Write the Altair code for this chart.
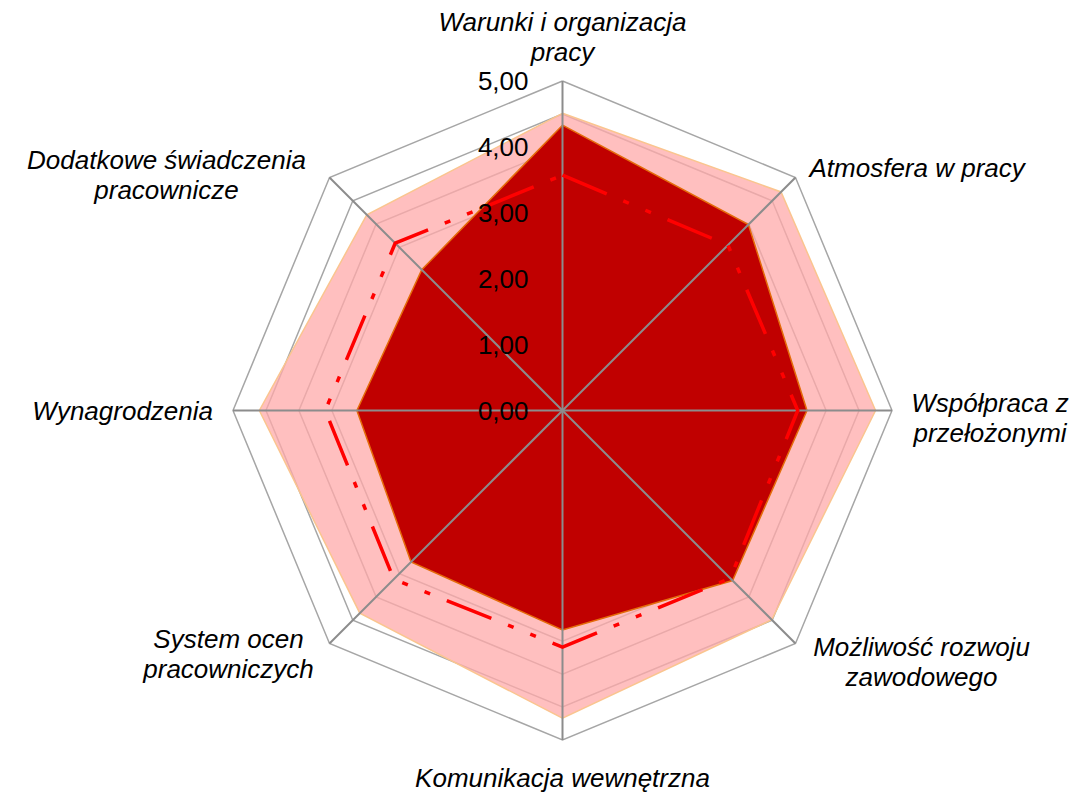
import altair as alt
import pandas as pd

categories = [
    "Warunki i organizacja\npracy",
    "Atmosfera w pracy",
    "Współpraca z\nprzełożonymi",
    "Możliwość rozwoju\nzawodowego",
    "Komunikacja wewnętrzna",
    "System ocen\npracowniczych",
    "Wynagrodzenia",
    "Dodatkowe świadczenia\npracownicze",
]
pink_values = [4.51, 4.69, 4.75, 4.49, 4.67, 4.35, 4.60, 4.20]
dark_values = [4.33, 3.99, 3.71, 3.65, 3.33, 3.25, 3.12, 3.02]
dashed_values = [3.57, 3.55, 3.57, 3.60, 3.59, 3.62, 3.60, 3.59]
grid_levels = [0.5, 1.0, 1.5, 2.0, 2.5, 3.0, 3.5, 4.0, 4.5, 5.0]
tick_values = [0, 1, 2, 3, 4, 5]
tick_labels = ["0,00", "1,00", "2,00", "3,00", "4,00", "5,00"]

W, H = 1076, 787
CX, CY = 554.5, 402.5
UNIT = 65.9
N = len(categories)
RMAX = grid_levels[-1]

xs = alt.Scale(domain=[-CX / UNIT, (W - CX) / UNIT], nice=False, zero=False)
ys = alt.Scale(domain=[-(H - CY) / UNIT, CY / UNIT], nice=False, zero=False)


def ring(values, name):
    rows = []
    for i in range(N + 1):
        rows.append({"series": name, "idx": i, "value": values[i % N]})
    return rows


series_df = pd.DataFrame(
    ring(pink_values, "pink") + ring(dark_values, "dark") + ring(dashed_values, "dash")
)
grid_rows = []
for lvl in grid_levels:
    grid_rows += [{"level": lvl, "idx": i, "value": lvl} for i in range(N + 1)]
grid_df = pd.DataFrame(grid_rows)
spoke_df = pd.DataFrame({"idx": list(range(N)), "value": [RMAX] * N})
label_df = pd.DataFrame({"idx": list(range(N)), "value": [RMAX] * N, "label": categories})
tick_df = pd.DataFrame({"tv": tick_values, "label": tick_labels})

ANG = "datum.idx * 2 * PI / %d" % N


def polar(ch):
    return ch.transform_calculate(
        x="datum.value * sin(" + ANG + ")",
        y="datum.value * cos(" + ANG + ")",
    )


X = alt.X("x:Q", scale=xs, axis=None)
Y = alt.Y("y:Q", scale=ys, axis=None)

grid = polar(alt.Chart(grid_df)).mark_line(
    stroke="#A6A6A6", strokeWidth=1.5
).encode(x=X, y=Y, detail="level:N", order="idx:Q")

pink = polar(alt.Chart(series_df).transform_filter("datum.series == 'pink'")).mark_line(
    fill="#FFAAAA", fillOpacity=0.75, stroke="#FAC58F", strokeWidth=1.5
).encode(x=X, y=Y, order="idx:Q")

dark = polar(alt.Chart(series_df).transform_filter("datum.series == 'dark'")).mark_line(
    fill="#C00000", stroke="#E46C0A", strokeWidth=1.5
).encode(x=X, y=Y, order="idx:Q")

spokes = alt.Chart(spoke_df).transform_calculate(
    x="datum.value * sin(" + ANG + ")",
    y="datum.value * cos(" + ANG + ")",
    x0="0",
    y0="0",
).mark_rule(stroke="#8C8C8C", strokeWidth=2).encode(
    x=X, y=Y, x2="x0:Q", y2="y0:Q"
)

dash = polar(alt.Chart(series_df).transform_filter("datum.series == 'dash'")).mark_line(
    stroke="#FF0000", strokeWidth=3.5, strokeDash=[48, 18, 6, 18, 6, 18]
).encode(x=X, y=Y, order="idx:Q")

ticks = alt.Chart(tick_df).transform_calculate(x="0", y="datum.tv").mark_text(
    align="right", baseline="middle", dx=-34, dy=1, fontSize=26,
    font="Liberation Sans", color="#000000"
).encode(x=X, y=Y, text="label:N")

label_style = {
    0: ("center", 0, -58.5),
    1: ("left", 14, -9),
    2: ("center", 98, -6.5),
    3: ("center", 126, 4.5),
    4: ("center", 0, 38.5),
    5: ("center", -101, -3.5),
    6: ("right", -20, 1),
    7: ("center", -163, -16.5),
}
label_layers = []
for i in range(N):
    al, ddx, ddy = label_style[i]
    label_layers.append(
        polar(alt.Chart(label_df).transform_filter("datum.idx == %d" % i)).mark_text(
            align=al, baseline="middle", dx=ddx, dy=ddy, fontSize=26,
            fontStyle="italic", font="Liberation Sans", lineBreak="\n",
            lineHeight=30, color="#000000"
        ).encode(x=X, y=Y, text="label:N")
    )

chart = alt.layer(grid, pink, dark, spokes, dash, ticks, *label_layers).properties(
    width=W, height=H, padding=0, autosize=alt.AutoSizeParams(type="none")
).configure_view(strokeWidth=0)

chart.save("out.html", embed_options={"renderer": "svg", "actions": False})
